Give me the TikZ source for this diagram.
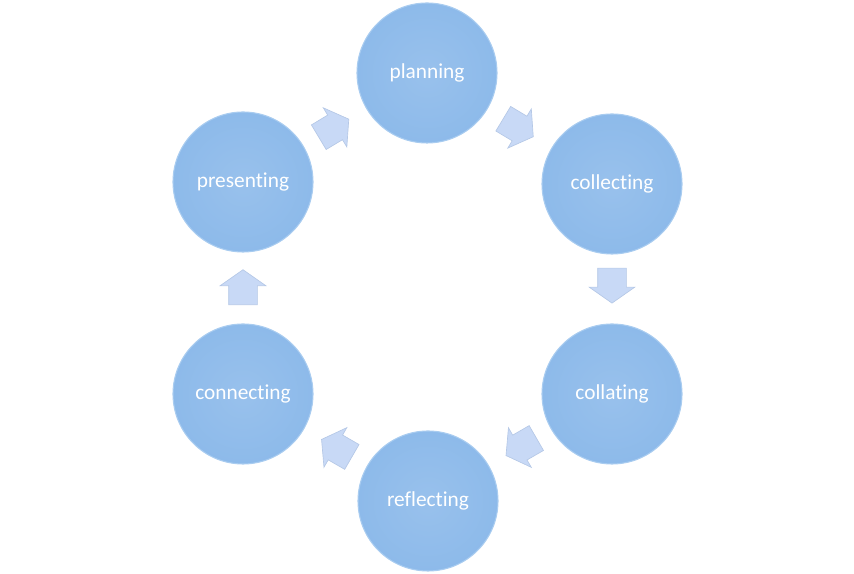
\documentclass[tikz,border=0pt]{standalone}
\usepackage{fontspec}
\setmainfont{Carlito}[Ligatures={NoCommon}]
\usepackage{tikz}
\usetikzlibrary{shapes.arrows, calc}
\definecolor{stage_fill}{HTML}{8DBAEA}
\definecolor{stage_rim}{HTML}{A9CCF0}
\definecolor{arrow_fill}{HTML}{C8D9F6}
\definecolor{arrow_rim}{HTML}{B5C8E6}

\begin{document}
\begin{tikzpicture}[x=0.75pt, y=0.75pt,
    stage/.style={circle, minimum size=140*0.75pt, inner sep=0pt,
      draw=stage_rim, line width=0.8pt, inner color=stage_fill!90!white,
      outer color=stage_fill, text=white, font=\fontsize{16}{19}\selectfont},
    flow/.style={single arrow, draw=arrow_rim, fill=arrow_fill, line width=0.5pt,
      minimum height=35*0.75pt, inner xsep=0pt, inner ysep=14*0.75pt,
      single arrow head extend=8.5*0.75pt, single arrow tip angle=110}]

    % Fix the page size
    \useasboundingbox (0,0) rectangle (854,574);

    % The six stages of the cycle
    \node[stage] (plan) at (427,501) {planning};
    \node[stage] (collect) at (612,390) {collecting};
    \node[stage] (collate) at (612,180) {collating};
    \node[stage] (reflect) at (428,73) {reflecting};
    \node[stage] (connect) at (243,180) {connecting};
    \node[stage] (present) at (243,392) {presenting};

    % Block arrows between the stages
    \node[flow, rotate=-31] (a1) at ($(plan)!0.47!(collect)$) {};
    \node[flow, rotate=-90] (a2) at ($(collect)!0.46!(collate)$) {};
    \node[flow, rotate=210] (a3) at ($(collate)!0.47!(reflect)$) {};
    \node[flow, rotate=150] (a4) at ($(reflect)!0.47!(connect)$) {};
    \node[flow, rotate=90] (a5) at ($(connect)!0.48!(present)$) {};
    \node[flow, rotate=31] (a6) at ($(present)!0.47!(plan)$) {};

\end{tikzpicture}
\end{document}
